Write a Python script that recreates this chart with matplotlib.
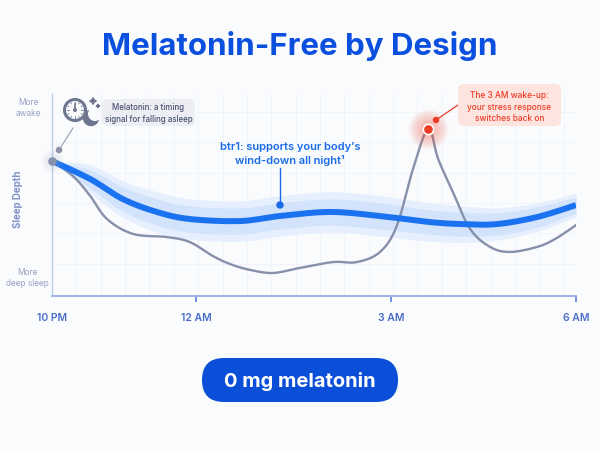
import numpy as np
import matplotlib.pyplot as plt
from matplotlib.patches import FancyBboxPatch, Circle

plt.rcParams['font.family'] = ['Inter', 'DejaVu Sans']

# x: progress through the night (0 = 10 PM, 100 = 6 AM)
# y: sleep level (0 = deep sleep, 100 = awake)
tick_pos = [0, 27.5, 64.7, 100]
tick_labels = ['10 PM', '12 AM', '3 AM', '6 AM']

btr1_x = [0, 7.3, 13.5, 20.0, 26.3, 35.9, 43.5, 53.1, 62.6, 72.1, 78.4, 84.9, 92.6, 100]
btr1_y = [66.8, 57.9, 48.0, 41.6, 38.1, 37.1, 39.6, 41.6, 39.6, 36.6, 35.6, 35.6, 39.1, 45.0]
band_outer = [0, 7, 9, 10, 10, 10, 10, 10, 10, 9.5, 9, 8, 7, 6]
band_inner = [0, 4.5, 6, 6.5, 6.5, 6.5, 6.5, 6.5, 6.5, 6, 6, 5.5, 5, 4]

mel_x = [0, 4.0, 7.3, 10.5, 15.5, 21.9, 26.3, 30.7, 34.0, 37.8, 42.2, 47.3, 53.6, 58.2,
         62.6, 65.8, 68.9, 71.8, 73.7, 76.5, 79.8, 83.6, 87.4, 92.6, 96.0, 100]
mel_y = [66.8, 59.4, 49.5, 38.1, 30.7, 29.2, 26.7, 19.8, 15.8, 12.9, 11.4, 13.9, 16.8, 16.8,
         21.8, 34.7, 62.9, 82.7, 67.8, 51.5, 33.2, 24.3, 21.8, 24.3, 28.2, 35.1]

bg = '#fafbfd'
blue = '#1b72f0'
grey = '#8790aa'
red = '#f03b25'


def smooth(xs, ys, n=16):
    # catmull-rom pass so the drawn lines are rounded between the read points
    p = np.column_stack([xs, ys]).astype(float)
    p = np.vstack([p[0], p, p[-1]])
    out = []
    t = np.linspace(0, 1, n, endpoint=False)[:, None]
    for i in range(1, len(p) - 2):
        p0, p1, p2, p3 = p[i - 1], p[i], p[i + 1], p[i + 2]
        seg = 0.5 * ((2 * p1) + (-p0 + p2) * t + (2 * p0 - 5 * p1 + 4 * p2 - p3) * t ** 2
                     + (-p0 + 3 * p1 - 3 * p2 + p3) * t ** 3)
        out.append(seg)
    out.append(p[-2][None, :])
    out = np.vstack(out)
    return out[:, 0], out[:, 1]


fig = plt.figure(figsize=(6, 4.52), dpi=100, facecolor=bg)
ax = fig.add_axes([52 / 600, 155 / 452, 524 / 600, 202 / 452])
ax.set_facecolor(bg)
ax.set_xlim(0, 100)
ax.set_ylim(0, 100)

for gx in np.arange(4.65, 100, 4.65):
    ax.axvline(gx, color='#eff2f9', lw=0.6, zorder=0)
for gy in [16, 31, 46, 61, 76, 91]:
    ax.axhline(gy, color='#eff2f9', lw=0.6, zorder=0)

bx, by = smooth(btr1_x, btr1_y)
_, bo = smooth(btr1_x, band_outer)
_, bi = smooth(btr1_x, band_inner)
ax.fill_between(bx, by - bo, by + bo, color='#e6effd', lw=0, zorder=1)
ax.fill_between(bx, by - bi, by + bi, color='#d2e3fb', lw=0, zorder=2)
ax.plot(bx, by, color=blue, lw=4.3, solid_capstyle='butt', zorder=4)

mx, my = smooth(mel_x, mel_y)
ax.plot(mx, my, color=grey, lw=1.7, zorder=3)

# start marker
for s, a in [(260, 0.08), (150, 0.12)]:
    ax.scatter(mel_x[0], mel_y[0], s=s, color='#b0b6c8', alpha=a, lw=0, zorder=5, clip_on=False)
ax.scatter(mel_x[0], mel_y[0], s=38, color=grey, lw=0, zorder=6, clip_on=False)

# 3 AM peak with a soft halo
pk = int(np.argmax(mel_y))
for r in np.linspace(20, 5, 14):
    ax.scatter(mel_x[pk], mel_y[pk], s=(1.44 * r) ** 2, color='#f6583f', alpha=0.035,
               lw=0, zorder=5)
ax.scatter(mel_x[pk], mel_y[pk], s=55, color=red, edgecolor='white', lw=1.2, zorder=6)

for side in ['top', 'right']:
    ax.spines[side].set_visible(False)
ax.spines['left'].set_color('#bcc9ec')
ax.spines['left'].set_linewidth(1)
ax.spines['bottom'].set_color('#9fb3e8')
ax.spines['bottom'].set_linewidth(1.4)
ax.set_yticks([])
ax.set_xticks(tick_pos)
ax.set_xticklabels(tick_labels)
ax.tick_params(axis='x', length=4.3, width=1.2, color='#5b7bd6', pad=7,
               labelsize=7.5, labelcolor='#4a6cc9')
for lbl in ax.get_xticklabels():
    lbl.set_fontweight('semibold')
ax.xaxis.get_major_ticks()[0].tick1line.set_visible(False)

# overlay in pixel units for the text and callouts
ov = fig.add_axes([0, 0, 1, 1], facecolor='none')
ov.set_xlim(0, 600)
ov.set_ylim(452, 0)
ov.axis('off')

ov.text(300, 55, 'Melatonin-Free by Design', ha='center', va='baseline',
        fontsize=22.5, fontweight='bold', color='#0b4fdf')

ov.text(28, 108, 'More\nawake', ha='center', va='center', fontsize=6,
        color='#98a2c4', linespacing=1.25)
ov.text(27, 278, 'More\ndeep sleep', ha='center', va='center', fontsize=6,
        color='#98a2c4', linespacing=1.25)
ov.text(18, 199, 'Sleep Depth', ha='center', va='center', rotation=90,
        fontsize=7, fontweight='bold', color='#8092c8')

# melatonin callout with clock + moon icon
ov.plot([59, 73], [151, 129], color='#9aa0b4', lw=0.8)
ov.add_patch(Circle((59, 151), 2.6, color='#8d93a8', zorder=5))
ov.add_patch(Circle((75, 111), 10.5, facecolor=bg, edgecolor='#6e7690', lw=2.2, zorder=5))
for ang in np.arange(0, 360, 30):
    r0 = 7.2 if ang % 90 else 6.2
    ov.plot([75 + r0 * np.cos(np.radians(ang)), 75 + 8.3 * np.cos(np.radians(ang))],
            [111 + r0 * np.sin(np.radians(ang)), 111 + 8.3 * np.sin(np.radians(ang))],
            color='#6e7690', lw=0.6, zorder=6)
ov.plot([75, 75], [111, 105], color='#6e7690', lw=1.2, zorder=6)
ov.add_patch(Circle((75, 111), 1.3, color='#6e7690', zorder=6))
ov.add_patch(Circle((91, 119), 7.5, color='#6e7690', zorder=7))
ov.add_patch(Circle((95, 115), 6.3, color=bg, zorder=8))
ov.scatter([93, 98], [102, 107], s=[22, 6], marker=(4, 1, 0), color='#6e7690', zorder=8)

ov.add_patch(FancyBboxPatch((102, 100), 93, 27, boxstyle='round,pad=0,rounding_size=6',
                            facecolor='#eceef3', edgecolor='none', zorder=4))
ov.text(148.5, 113.5, 'Melatonin: a timing\nsignal for falling asleep', ha='center', va='center',
        fontsize=5.7, fontweight='medium', color='#485170', linespacing=1.3, zorder=5)

# 3 AM callout
ov.plot([436, 458], [121, 106], color=red, lw=0.9)
ov.add_patch(Circle((436, 121), 2.5, color=red, zorder=5))
ov.add_patch(FancyBboxPatch((458, 85), 103, 42, boxstyle='round,pad=0,rounding_size=6',
                            facecolor='#fde4de', edgecolor='none', zorder=4))
ov.text(509.5, 107, 'The 3 AM wake-up:\nyour stress response\nswitches back on', ha='center',
        va='center', fontsize=6, fontweight='medium', color=red, linespacing=1.3, zorder=5)

# btr1 callout
ov.text(290, 154, 'btr1: supports your body\u2019s\nwind-down all night\u00b9', ha='center',
        va='center', fontsize=8, fontweight='semibold', color='#1a6be8', linespacing=1.3)
ov.plot([280, 280], [169, 206], color='#1a6be8', lw=1)
ov.add_patch(Circle((280, 206), 3, color='#1a6be8', zorder=5))

# pill
ov.add_patch(FancyBboxPatch((202, 359), 196, 44, boxstyle='round,pad=0,rounding_size=22',
                            facecolor='#0b4fd8', edgecolor='none'))
ov.text(300, 381.5, '0 mg melatonin', ha='center', va='center', fontsize=14.5,
        fontweight='bold', color='white')

fig.savefig('out.png', dpi=100, facecolor=bg)
